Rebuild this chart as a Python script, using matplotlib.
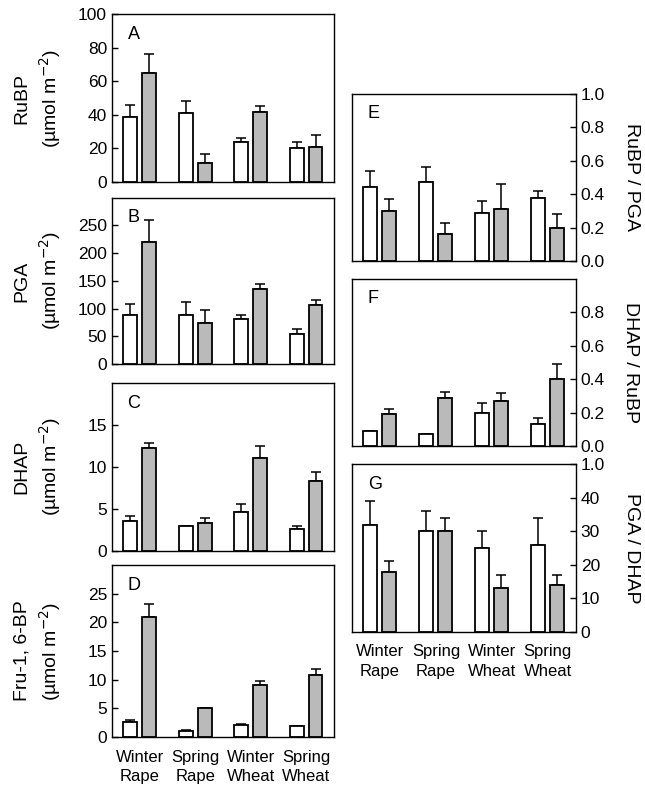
import matplotlib
matplotlib.use("Agg")
import matplotlib.pyplot as plt
import numpy as np

plt.rcParams['font.family'] = ['Liberation Sans', 'DejaVu Sans']

groups = ["Winter\nRape", "Spring\nRape", "Winter\nWheat", "Spring\nWheat"]

# value, top of error bar (white = control, grey = treatment)
rubp_w = [39, 41, 24, 20.5]
rubp_w_top = [46, 48, 26.5, 24]
rubp_g = [65, 11.5, 42, 21]
rubp_g_top = [76, 16.5, 45, 28]

pga_w = [88, 89, 81, 55]
pga_w_top = [108, 112, 88, 63]
pga_g = [220, 74, 135, 106]
pga_g_top = [260, 97, 145, 116]

dhap_w = [3.6, 2.9, 4.6, 2.6]
dhap_w_top = [4.2, 3.0, 5.6, 2.9]
dhap_g = [12.2, 3.3, 11.0, 8.3]
dhap_g_top = [12.9, 3.9, 12.5, 9.4]

fbp_w = [2.6, 1.1, 2.1, 1.9]
fbp_w_top = [2.9, 1.3, 2.2, 2.0]
fbp_g = [21.0, 5.0, 9.0, 10.8]
fbp_g_top = [23.2, 5.1, 9.7, 11.9]

rp_w = [0.44, 0.47, 0.29, 0.38]
rp_w_top = [0.54, 0.56, 0.36, 0.42]
rp_g = [0.30, 0.16, 0.31, 0.20]
rp_g_top = [0.37, 0.23, 0.46, 0.28]

dr_w = [0.09, 0.07, 0.20, 0.13]
dr_w_top = [0.092, 0.072, 0.255, 0.167]
dr_g = [0.19, 0.29, 0.27, 0.40]
dr_g_top = [0.22, 0.325, 0.315, 0.49]

pd_w = [32, 30, 25, 26]
pd_w_top = [39, 36, 30, 34]
pd_g = [18, 30, 13, 14]
pd_g_top = [21, 34, 17, 17]

fig = plt.figure(figsize=(6.45, 7.88), dpi=100)

x = np.arange(len(groups))
bw = 0.25
off = 0.17


def panel(rect, letter, w, wt, g, gt, ylim, yticks, ylabel, right=False,
          xlabels=False, ticklabels=None):
    ax = fig.add_axes(rect)
    for vals, tops, dx, fc in [(w, wt, -off, 'white'), (g, gt, off, '#bababa')]:
        vals = np.array(vals)
        up = np.array(tops) - vals
        ax.bar(x + dx, vals, bw, color=fc, edgecolor='black', linewidth=1.3, zorder=2)
        ax.errorbar(x + dx, vals, yerr=[np.zeros_like(up), up], fmt='none',
                    ecolor='black', elinewidth=1.1, capsize=3.5, capthick=1.1, zorder=1)
    ax.set_xlim(-0.5, 3.5)
    ax.set_ylim(*ylim)
    ax.set_yticks(yticks)
    if ticklabels is not None:
        ax.set_yticklabels(ticklabels)
    ax.tick_params(axis='y', direction='in', length=4, labelsize=12.5, width=1)
    ax.tick_params(axis='x', length=0, labelsize=12, pad=9)
    ax.set_xticks(x)
    if xlabels:
        ax.set_xticklabels(groups, linespacing=1.4)
    else:
        ax.set_xticklabels([])
    for s in ax.spines.values():
        s.set_linewidth(1.0)
    if right:
        ax.yaxis.tick_right()
        ax.yaxis.set_label_position('right')
        ax.set_ylabel(ylabel, fontsize=14, rotation=270, labelpad=25)
    else:
        ax.set_ylabel(ylabel, fontsize=14, linespacing=1.35)
        ax.yaxis.set_label_coords(-0.22, 0.5)
    ax.text(0.07, 0.88, letter, transform=ax.transAxes, fontsize=13, va='center')
    return ax


unit = "(\u00b5mol m$^{-2}$)"
L, LW = 0.1736, 0.344
R, RW = 0.5457, 0.347

panel([L, 0.769, LW, 0.213], "A", rubp_w, rubp_w_top, rubp_g, rubp_g_top,
      (0, 100), [0, 20, 40, 60, 80, 100], "RuBP\n" + unit)
panel([L, 0.538, LW, 0.211], "B", pga_w, pga_w_top, pga_g, pga_g_top,
      (0, 300), [0, 50, 100, 150, 200, 250], "PGA\n" + unit)
panel([L, 0.301, LW, 0.213], "C", dhap_w, dhap_w_top, dhap_g, dhap_g_top,
      (0, 20), [0, 5, 10, 15], "DHAP\n" + unit)
panel([L, 0.0647, LW, 0.218], "D", fbp_w, fbp_w_top, fbp_g, fbp_g_top,
      (0, 30), [0, 5, 10, 15, 20, 25], "Fru-1, 6-BP\n" + unit, xlabels=True)

panel([R, 0.6688, RW, 0.212], "E", rp_w, rp_w_top, rp_g, rp_g_top,
      (0, 1.0), [0, 0.2, 0.4, 0.6, 0.8, 1.0], "RuBP / PGA", right=True,
      ticklabels=["0.0", "0.2", "0.4", "0.6", "0.8", "1.0"])
panel([R, 0.434, RW, 0.212], "F", dr_w, dr_w_top, dr_g, dr_g_top,
      (0, 1.0), [0, 0.2, 0.4, 0.6, 0.8], "DHAP / RuBP", right=True,
      ticklabels=["0.0", "0.2", "0.4", "0.6", "0.8"])
panel([R, 0.198, RW, 0.213], "G", pd_w, pd_w_top, pd_g, pd_g_top,
      (0, 50), [0, 10, 20, 30, 40, 50], "PGA / DHAP", right=True, xlabels=True,
      ticklabels=["0", "10", "20", "30", "40", "1.0"])

fig.savefig("out.png", dpi=100)
